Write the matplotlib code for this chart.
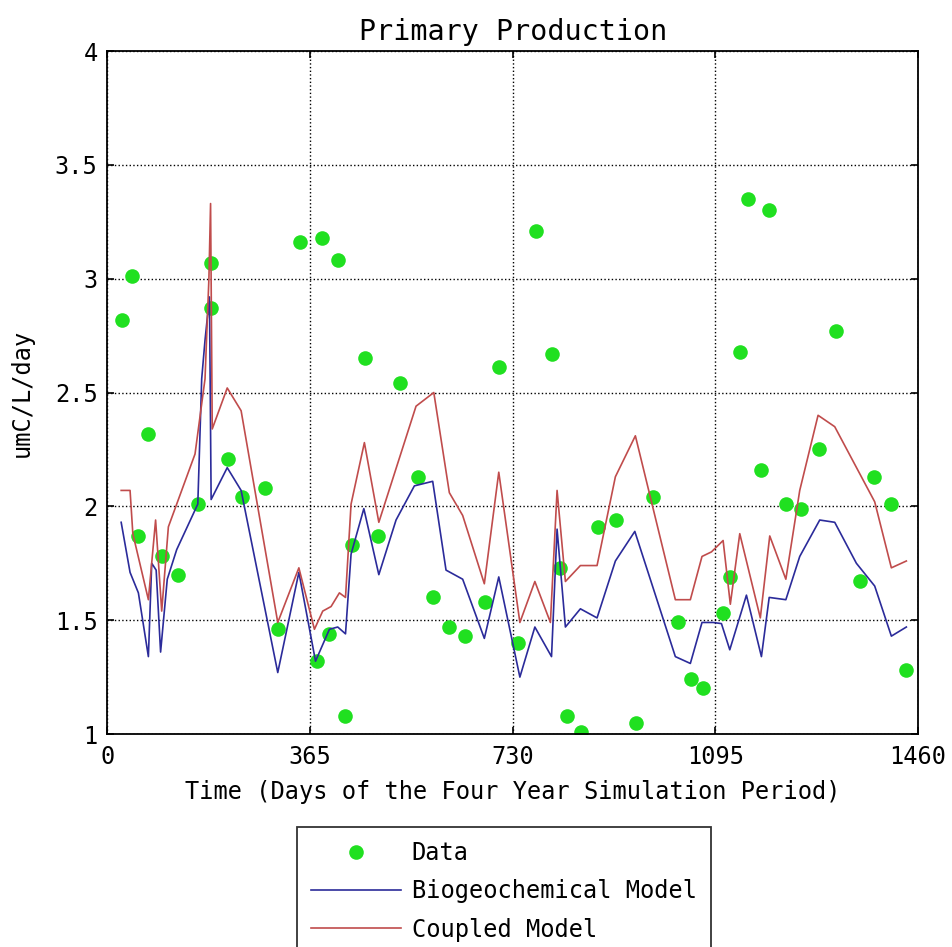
import matplotlib
matplotlib.use('Agg')
import matplotlib.pyplot as plt

# measured data points (day, umC/L/day)
data_t = [27, 44, 56, 74, 98, 128, 164, 187, 187, 217, 242, 284, 308, 347, 377, 386,
          400, 415, 428, 441, 464, 488, 528, 560, 586, 615, 645, 680, 706, 740, 772,
          800, 815, 828, 853, 883, 917, 952, 982, 1027, 1052, 1072, 1109, 1122, 1139,
          1153, 1178, 1191, 1222, 1250, 1281, 1312, 1355, 1381, 1412, 1438]
data_v = [2.82, 3.01, 1.87, 2.32, 1.78, 1.70, 2.01, 3.07, 2.87, 2.21, 2.04, 2.08, 1.46,
          3.16, 1.32, 3.18, 1.44, 3.08, 1.08, 1.83, 2.65, 1.87, 2.54, 2.13, 1.60, 1.47,
          1.43, 1.58, 2.61, 1.40, 3.21, 2.67, 1.73, 1.08, 1.01, 1.91, 1.94, 1.05, 2.04,
          1.49, 1.24, 1.20, 1.53, 1.69, 2.68, 3.35, 2.16, 3.30, 2.01, 1.99, 2.25, 2.77,
          1.67, 2.13, 2.01, 1.28]

# biogeochemical model
bio_t = [25, 41, 56, 74, 80, 88, 96, 108, 125, 163, 170, 176, 184, 187, 216, 241, 307,
         345, 375, 400, 415, 429, 439, 462, 489, 520, 553, 586, 610, 640, 679, 705, 743,
         770, 800, 810, 825, 852, 882, 915, 950, 1023, 1050, 1071, 1091, 1106, 1121,
         1151, 1178, 1192, 1222, 1247, 1283, 1310, 1349, 1382, 1412, 1439]
bio_v = [1.93, 1.71, 1.62, 1.34, 1.75, 1.72, 1.36, 1.68, 1.81, 2.01, 2.56, 2.73, 2.92,
         2.03, 2.17, 2.07, 1.27, 1.71, 1.32, 1.46, 1.47, 1.44, 1.79, 1.99, 1.70, 1.94,
         2.09, 2.11, 1.72, 1.68, 1.42, 1.69, 1.25, 1.47, 1.34, 1.90, 1.47, 1.55, 1.51,
         1.76, 1.89, 1.34, 1.31, 1.49, 1.49, 1.485, 1.37, 1.61, 1.34, 1.60, 1.59, 1.78,
         1.94, 1.93, 1.75, 1.65, 1.43, 1.47]

# coupled model
cpl_t = [25, 41, 46, 74, 87, 98, 110, 158, 176, 183, 186, 189, 216, 241, 307, 345, 373,
         388, 403, 418, 429, 439, 463, 489, 556, 588, 616, 640, 679, 705, 743, 770, 798,
         810, 825, 852, 882, 915, 951, 1023, 1050, 1071, 1088, 1109, 1122, 1139, 1176,
         1193, 1222, 1247, 1280, 1310, 1382, 1412, 1439]
cpl_v = [2.07, 2.07, 1.88, 1.59, 1.94, 1.54, 1.91, 2.23, 2.56, 3.00, 3.33, 2.34, 2.52,
         2.42, 1.49, 1.73, 1.46, 1.54, 1.56, 1.62, 1.60, 2.01, 2.28, 1.93, 2.44, 2.50,
         2.06, 1.96, 1.66, 2.15, 1.49, 1.67, 1.49, 2.07, 1.67, 1.74, 1.74, 2.13, 2.31,
         1.59, 1.59, 1.78, 1.80, 1.85, 1.57, 1.88, 1.51, 1.87, 1.68, 2.07, 2.40, 2.35,
         2.02, 1.73, 1.76]

xticks = [0, 365, 730, 1095, 1460]
yticks = [1, 1.5, 2, 2.5, 3, 3.5, 4]
ytick_labels = ['1', '1.5', '2', '2.5', '3', '3.5', '4']

plt.rcParams['font.family'] = ['DejaVu Sans Mono']
plt.rcParams['font.size'] = 17

fig = plt.figure(figsize=(9.52, 9.47), dpi=100)
ax = fig.add_axes([0.1127, 0.2249, 0.8516, 0.7212])

ax.plot(data_t, data_v, 'o', color='#20e020', ms=10.5, mec='none', label='Data')
ax.plot(bio_t, bio_v, '-', color='#2b2b9a', lw=1.2, label='Biogeochemical Model')
ax.plot(cpl_t, cpl_v, '-', color='#c04c4c', lw=1.2, label='Coupled Model')

ax.set_xlim(0, 1460)
ax.set_ylim(1, 4)
ax.set_xticks(xticks)
ax.set_yticks(yticks)
ax.set_yticklabels(ytick_labels)
ax.grid(True, linestyle=':', color='black', lw=1.0)
ax.tick_params(direction='in', top=True, right=True, length=5, width=1.2)
ax.tick_params(axis='x', pad=8)
ax.tick_params(axis='y', pad=7)
for s in ax.spines.values():
    s.set_linewidth(1.3)

ax.set_title('Primary Production', pad=8)
ax.set_xlabel('Time (Days of the Four Year Simulation Period)', labelpad=8)
ax.set_ylabel('umC/L/day', labelpad=15)

leg = fig.legend(loc='upper left', bbox_to_anchor=(297/952, 1 - 827/947),
                 frameon=True, fancybox=False, edgecolor='black',
                 handlelength=3.8, handletextpad=0.45, labelspacing=0.6,
                 borderpad=0.6, borderaxespad=0)
leg.get_frame().set_linewidth(1.3)

fig.savefig('out.png', dpi=100)
